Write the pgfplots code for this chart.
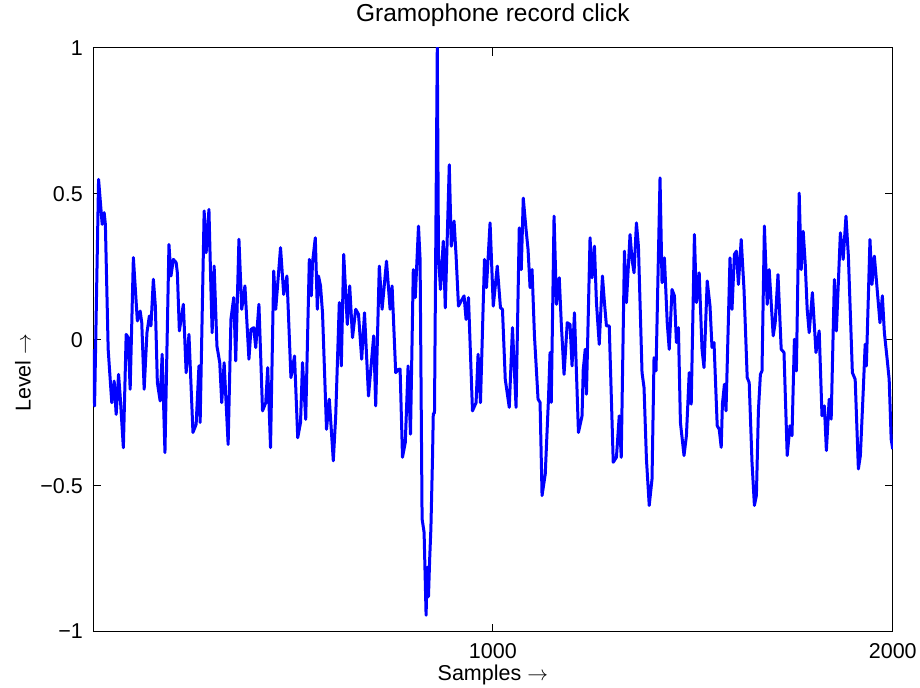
\documentclass[border=0pt]{standalone}
\usepackage{pgfplots}
\pgfplotsset{compat=1.18}
\usepackage{fontspec}
\setmainfont{Liberation Sans}
\definecolor{mblue}{RGB}{0,0,255}
\begin{document}
\begin{tikzpicture}
\begin{axis}[
  scale only axis, width=800pt, height=584pt,
  xmin=0, xmax=2000, ymin=-1, ymax=1,
  xtick={1000,2000}, xticklabels={1000,2000},
  ytick={-1,-0.5,0,0.5,1}, yticklabels={−1,−0.5,0,0.5,1},
  tick align=inside, major tick length=8pt, tick pos=both,
  axis line style={line width=0.8pt},
  tick style={line width=0.8pt, black},
  tick label style={font=\fontsize{21.5}{25}\selectfont},
  xticklabel style={anchor=center, yshift=-20pt},
  yticklabel style={anchor=east, inner sep=0pt, xshift=-10pt},
  title={Gramophone record click},
  title style={at={(axis description cs:0.5,1.0462)}, anchor=center, font=\fontsize{24.5}{28}\selectfont},
  xlabel={Samples $\rightarrow$},
  xlabel style={at={(axis description cs:0.5,-0.0736)}, anchor=center, font=\fontsize{21.5}{25}\selectfont},
  ylabel={Level $\rightarrow$},
  ylabel style={at={(axis description cs:-0.0875,0.4435)}, anchor=center, font=\fontsize{21.5}{25}\selectfont},
]
\addplot[color=mblue, line width=3pt, line join=round] table {
x y
0 -0.033
4 -0.227
14 0.549
23 0.395
28 0.435
31 0.395
38 -0.033
47 -0.216
53 -0.142
58 -0.256
64 -0.119
68 -0.193
76 -0.370
83 0.018
88 0.007
93 -0.170
101 0.281
111 0.064
118 0.098
122 0.058
128 -0.170
135 0.024
141 0.081
145 0.047
151 0.207
156 0.115
161 -0.147
168 -0.210
173 -0.050
180 -0.387
190 0.326
195 0.218
201 0.275
208 0.264
211 0.229
216 0.030
226 0.121
233 -0.113
240 0.018
250 -0.318
258 -0.290
265 -0.090
268 -0.284
278 0.441
283 0.298
290 0.446
295 0.172
298 0.024
303 0.252
310 -0.022
317 -0.079
322 -0.216
328 -0.079
338 -0.359
345 0.070
352 0.144
357 -0.073
365 0.344
372 0.104
380 0.184
390 -0.067
395 0.035
402 0.041
407 -0.027
415 0.121
424 -0.244
432 -0.216
437 -0.096
444 -0.370
452 0.235
457 0.104
469 0.315
477 0.155
485 0.218
495 -0.130
504 -0.056
512 -0.336
519 -0.284
524 -0.079
532 -0.273
541 0.275
546 0.150
549 0.264
556 0.349
561 0.104
564 0.218
569 0.184
574 0.092
584 -0.307
591 -0.204
601 -0.415
607 -0.261
616 0.127
621 -0.090
627 0.292
636 0.052
642 0.184
649 0.007
657 0.104
664 0.087
672 -0.067
679 0.092
689 -0.193
702 0.013
707 -0.227
716 0.252
723 0.104
734 0.269
743 0.104
748 0.184
757 -0.113
764 -0.102
768 -0.101
774 -0.403
781 -0.352
788 -0.090
794 -0.324
801 0.240
806 0.144
814 0.389
818 0.275
823 -0.614
828 -0.660
833 -0.944
836 -0.780
839 -0.880
842 -0.750
845 -0.648
849 -0.409
851 -0.255
854 -0.250
861 1.000
864 0.286
869 0.172
876 0.337
881 0.109
891 0.599
896 0.320
903 0.406
908 0.287
914 0.115
921 0.133
928 0.150
933 0.069
939 0.144
949 -0.244
958 -0.216
963 -0.050
969 -0.216
979 0.275
984 0.178
993 0.400
1001 0.115
1011 0.252
1019 0.109
1024 0.104
1031 -0.136
1041 -0.232
1049 0.041
1058 -0.232
1066 0.383
1071 0.240
1076 0.485
1083 0.377
1088 0.309
1093 0.178
1098 0.240
1104 0.013
1113 -0.204
1118 -0.215
1123 -0.534
1131 -0.460
1139 -0.204
1143 -0.044
1146 -0.215
1153 0.423
1159 0.121
1166 0.212
1171 0.058
1178 -0.119
1186 0.058
1193 0.052
1198 -0.090
1204 0.092
1214 -0.318
1223 -0.261
1226 -0.102
1231 -0.033
1234 -0.187
1243 0.349
1248 0.212
1254 0.320
1259 0.127
1266 -0.016
1274 0.218
1279 0.127
1284 0.047
1291 0.047
1301 -0.420
1309 -0.403
1316 -0.261
1321 -0.403
1329 0.303
1334 0.127
1343 0.360
1348 0.275
1353 0.229
1359 0.400
1364 0.320
1373 -0.113
1378 -0.164
1384 -0.409
1391 -0.568
1398 -0.477
1403 -0.062
1408 -0.107
1418 0.554
1423 0.195
1429 0.280
1436 0.058
1441 -0.033
1448 0.172
1454 0.150
1459 -0.010
1464 0.041
1469 -0.284
1478 -0.397
1484 -0.329
1491 -0.113
1496 -0.221
1504 0.360
1509 0.127
1516 0.229
1523 -0.033
1528 -0.096
1536 0.201
1543 0.115
1548 -0.027
1553 -0.010
1561 -0.295
1566 -0.307
1571 -0.369
1574 -0.221
1579 -0.153
1583 -0.244
1593 0.280
1598 0.104
1604 0.292
1609 0.303
1614 0.189
1621 0.343
1628 0.172
1636 -0.130
1641 -0.147
1648 -0.420
1654 -0.568
1659 -0.534
1664 -0.244
1669 -0.119
1673 -0.107
1679 0.389
1686 0.121
1691 0.240
1701 0.013
1706 0.058
1713 0.223
1721 -0.033
1728 -0.044
1736 -0.397
1743 -0.295
1748 -0.329
1754 0.001
1759 -0.107
1766 0.502
1771 0.240
1776 0.371
1781 0.263
1786 0.104
1791 0.024
1799 0.161
1808 -0.044
1816 0.030
1823 -0.261
1829 -0.227
1834 -0.380
1841 -0.204
1846 -0.272
1854 0.206
1859 0.030
1869 0.366
1876 0.275
1883 0.423
1889 0.286
1899 -0.113
1906 -0.136
1914 -0.443
1919 -0.397
1926 -0.181
1931 -0.016
1934 -0.090
1943 0.343
1948 0.189
1954 0.286
1961 0.172
1968 0.058
1974 0.150
1979 0.024
1986 -0.067
1991 -0.136
1996 -0.341
2000 -0.375
};
\coordinate (ll) at (rel axis cs:0,0);
\coordinate (ur) at (rel axis cs:1,1);
\end{axis}
\path ([shift={(-93pt,-55pt)}]ll) rectangle ([shift={(27pt,45pt)}]ur);
\end{tikzpicture}
\end{document}
